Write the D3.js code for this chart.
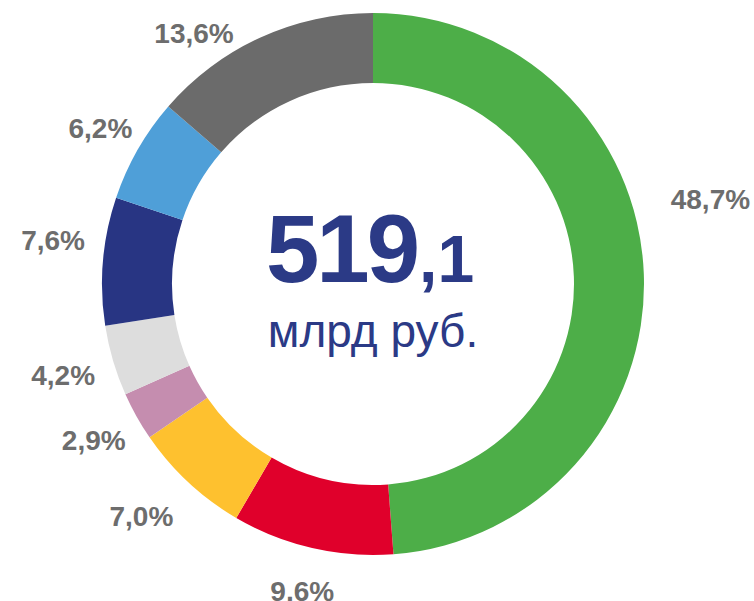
<!DOCTYPE html>
<html>
<head>
<meta charset="utf-8">
<script src="https://cdn.jsdelivr.net/npm/d3@7"></script>
<style>
  body { margin: 0; background: #fff; }
</style>
</head>
<body>
<script>
// data
const categories = ["a", "b", "c", "d", "e", "f", "g", "h"]
const shares = [48.7, 9.6, 7.0, 2.9, 4.2, 7.6, 6.2, 13.6]
const shareLabels = ["48,7%", "9,6%", "7,0%", "2,9%", "4,2%", "7,6%", "6,2%", "13,6%"]
const colors = ["#4dae48", "#e0002b", "#fec12f", "#c58daf", "#dddddd", "#283583", "#4f9fd8", "#6b6b6b"]
const totalMain = "519"
const totalDecimal = ",1"
const totalUnit = "млрд руб."

function drawDonut() {
  const dimensions = {
    width: 754,
    height: 601,
    cx: 373,
    cy: 284,
    outer: 271,
    inner: 201,
    labelRadius: 320,
  }
  // angle nudges (degrees) for labels that sit off their slice middle
  const labelNudge = [-12, 0, 2, 0, 0, 3, 0, -11]
  const labelRadiusNudge = [28, -5, 8, 0, 3, 3, -6, -12]

  const wrapper = d3.select("body")
    .append("svg")
      .attr("width", dimensions.width)
      .attr("height", dimensions.height)

  const bounds = wrapper.append("g")
    .attr("transform", `translate(${dimensions.cx}, ${dimensions.cy})`)

  const pie = d3.pie()
    .value(d => d)
    .sort(null)

  const arcs = pie(shares)

  const arc = d3.arc()
    .innerRadius(dimensions.inner)
    .outerRadius(dimensions.outer)

  bounds.selectAll("path")
    .data(arcs)
    .join("path")
      .attr("d", arc)
      .attr("fill", (d, i) => colors[i])

  // percentage labels
  bounds.selectAll("text.label")
    .data(arcs)
    .join("text")
      .attr("class", "label")
      .attr("transform", (d, i) => {
        const a = (d.startAngle + d.endAngle) / 2 + labelNudge[i] * Math.PI / 180
        const r = dimensions.labelRadius + labelRadiusNudge[i]
        return `translate(${r * Math.sin(a)}, ${-r * Math.cos(a)})`
      })
      .attr("text-anchor", "middle")
      .attr("dy", "0.36em")
      .attr("fill", "#6d6d6d")
      .style("font-family", "'Liberation Sans', Arial, sans-serif")
      .style("font-weight", "bold")
      .style("font-size", "28px")
      .text((d, i) => shareLabels[i])

  // center total
  const total = bounds.append("text")
      .attr("text-anchor", "middle")
      .attr("x", -3)
      .attr("y", -2)
      .attr("fill", "#2b3a86")
      .style("font-family", "'Liberation Sans', Arial, sans-serif")
      .style("font-weight", "bold")

  total.append("tspan")
      .style("font-size", "96px")
      .style("letter-spacing", "-3px")
      .text(totalMain)
  total.append("tspan")
      .attr("dx", 2)
      .style("font-size", "66px")
      .text(totalDecimal)

  bounds.append("text")
      .attr("text-anchor", "middle")
      .attr("x", 0)
      .attr("y", 63)
      .attr("fill", "#2b3a86")
      .style("font-family", "'Liberation Sans', Arial, sans-serif")
      .style("font-size", "46px")
      .text(totalUnit)
}
drawDonut()
</script>
</body>
</html>
